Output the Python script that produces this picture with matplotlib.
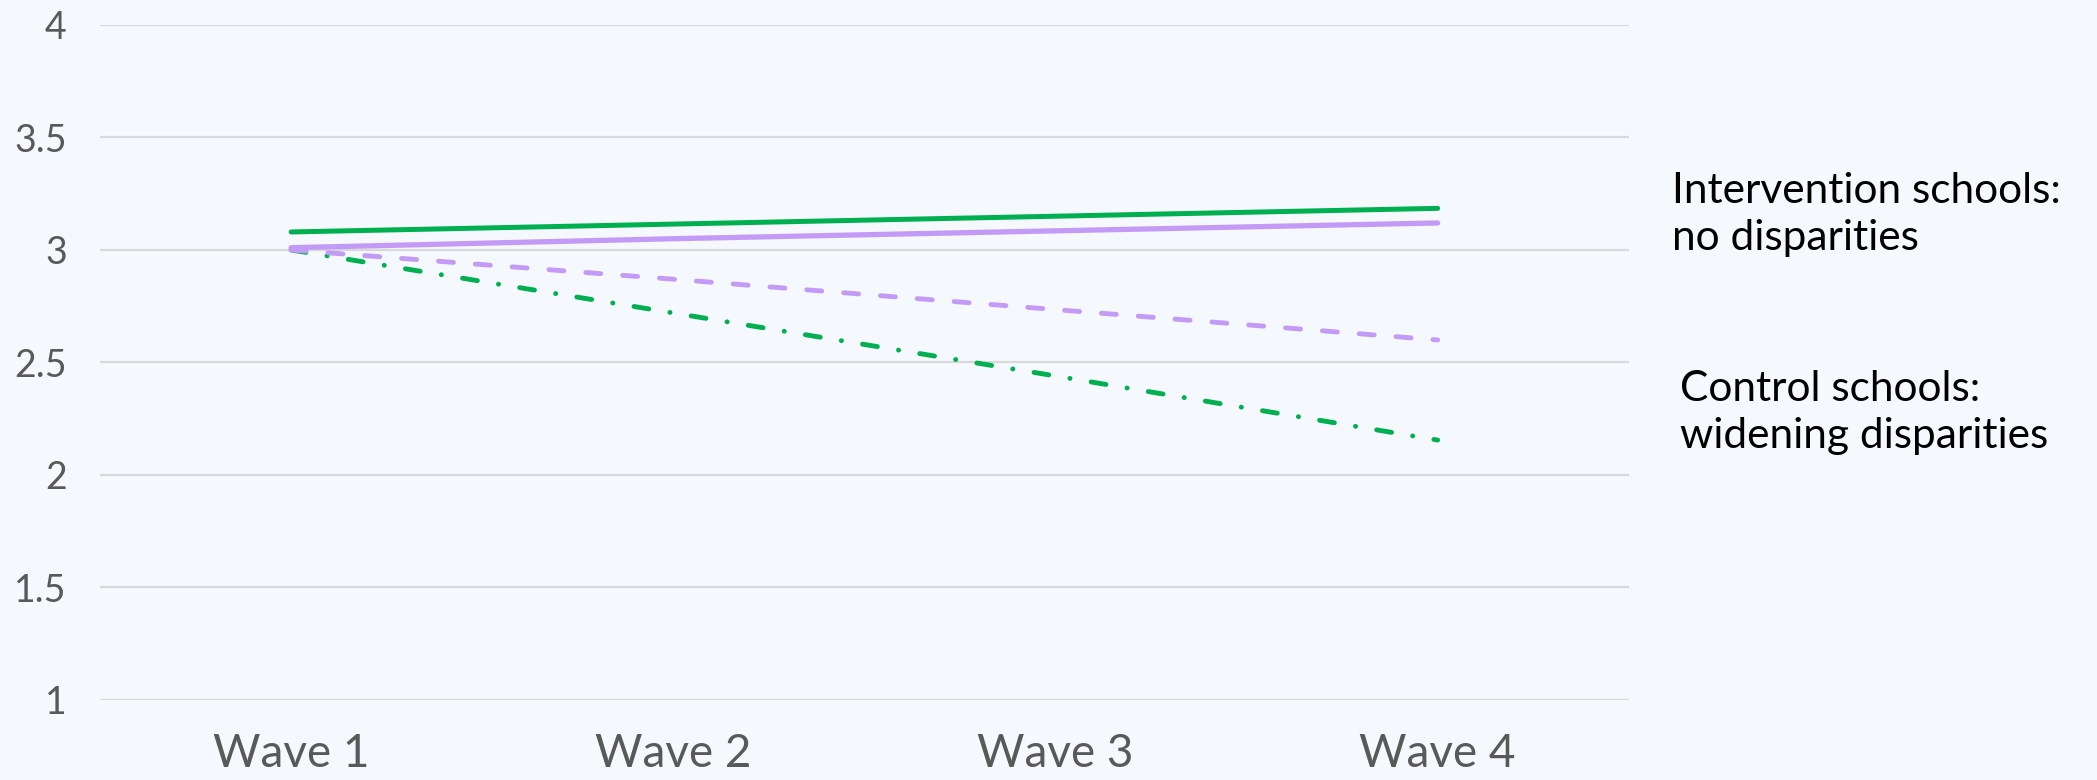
import matplotlib
matplotlib.use("Agg")
import matplotlib.pyplot as plt
import numpy as np

# survey waves and mean scores per group
waves = ["Wave 1", "Wave 2", "Wave 3", "Wave 4"]
interv_green = [3.08, 3.115, 3.15, 3.185]
interv_purple = [3.01, 3.05, 3.085, 3.12]
control_purple = [3.0, 2.87, 2.735, 2.6]
control_green = [3.0, 2.72, 2.44, 2.155]
yticks = [1, 1.5, 2, 2.5, 3, 3.5, 4]
ytick_labels = ["1", "1.5", "2", "2.5", "3", "3.5", "4"]

GREEN = "#00B050"
PURPLE = "#C39BF6"
BG = "#F5F8FD"

plt.rcParams["font.family"] = ["Lato", "DejaVu Sans"]
plt.rcParams["lines.scale_dashes"] = False

fig = plt.figure(figsize=(20.97, 7.8), dpi=100, facecolor=BG)
ax = fig.add_axes([0.0477, 0.1026, 0.729, 0.8654])
ax.set_facecolor(BG)

x = np.arange(len(waves))
ax.plot(x, control_green, color=GREEN, lw=3.5, dash_capstyle="round",
        dashes=(10.8, 15.4, 0.1, 15.4), zorder=3)
ax.plot(x, control_purple, color=PURPLE, lw=3.5, dash_capstyle="round",
        dashes=(10.8, 15.8), zorder=3)
ax.plot(x, interv_purple, color=PURPLE, lw=3.8, solid_capstyle="round", zorder=4)
ax.plot(x, interv_green, color=GREEN, lw=3.6, solid_capstyle="round", zorder=4)

ax.set_xlim(-0.5, 3.5)
ax.set_ylim(1, 4)
ax.set_xticks(x)
ax.set_xticklabels(waves, fontsize=33, color="#595959")
ax.set_yticks(yticks)
ax.set_yticklabels(ytick_labels, fontsize=27, color="#595959")
ax.tick_params(axis="x", length=0, pad=24)
ax.tick_params(axis="y", length=0, pad=24)
ax.grid(axis="y", color="#D9D9D9", lw=1.6, zorder=1)
ax.set_axisbelow(True)
for s in ax.spines.values():
    s.set_visible(False)

# group annotations to the right of the plot
fig.text(1672 / 2097, 1 - 250 / 780, "Intervention schools:\nno disparities",
         fontsize=30.5, color="black", ha="left", va="baseline", linespacing=1.3)
fig.text(1680 / 2097, 1 - 448 / 780, "Control schools:\nwidening disparities",
         fontsize=30.5, color="black", ha="left", va="baseline", linespacing=1.3)

fig.savefig("out.png", dpi=100, facecolor=BG)
